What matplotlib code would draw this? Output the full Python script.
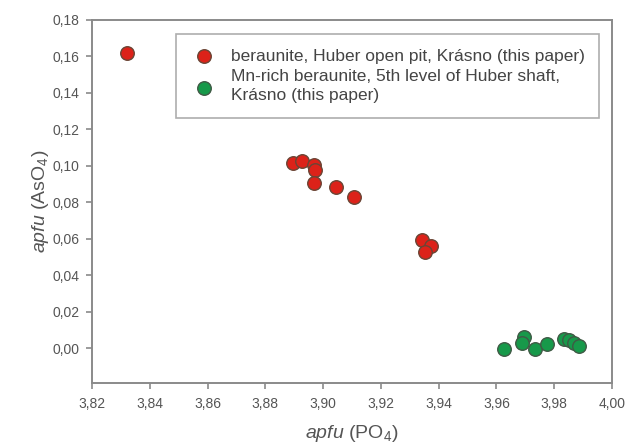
import matplotlib
matplotlib.use("Agg")
import matplotlib.pyplot as plt

plt.rcParams["font.family"] = ["Liberation Sans", "DejaVu Sans"]
plt.rcParams["mathtext.fontset"] = "custom"
plt.rcParams["mathtext.rm"] = "Liberation Sans"
plt.rcParams["mathtext.it"] = "Liberation Sans:italic"

# beraunite, Huber open pit
po4_open = [3.832, 3.8895, 3.8927, 3.8968, 3.8973, 3.8968, 3.9043, 3.9106,
            3.9344, 3.9375, 3.9352]
aso4_open = [0.1617, 0.1017, 0.1026, 0.1004, 0.0977, 0.0907, 0.0882, 0.0830,
             0.0593, 0.0562, 0.0529]

# Mn-rich beraunite, 5th level of Huber shaft
po4_mn = [3.9625, 3.9694, 3.969, 3.9734, 3.9774, 3.9835, 3.9852, 3.987, 3.9885]
aso4_mn = [-0.0005, 0.0062, 0.0029, -0.0005, 0.0026, 0.0053, 0.0044, 0.0029, 0.0013]

xticks = [3.82, 3.84, 3.86, 3.88, 3.90, 3.92, 3.94, 3.96, 3.98, 4.00]
yticks = [0.00, 0.02, 0.04, 0.06, 0.08, 0.10, 0.12, 0.14, 0.16, 0.18]

spine_c = "#8a8a8a"
text_c = "#555555"

fig = plt.figure(figsize=(6.26, 4.46), dpi=100)
ax = fig.add_axes([0.147, 0.1413, 0.8306, 0.8139])

ax.scatter(po4_open, aso4_open, s=95, color="#dc2219", edgecolor="#6a4535",
           linewidth=1.0, zorder=3,
           label="beraunite, Huber open pit, Krásno (this paper)")
ax.scatter(po4_mn, aso4_mn, s=95, color="#17994a", edgecolor="#3f5a45",
           linewidth=1.0, zorder=3,
           label="Mn-rich beraunite, 5th level of Huber shaft,\nKrásno (this paper)")

ax.set_xlim(3.82, 4.00)
ax.set_ylim(-0.019, 0.18)
ax.set_xticks(xticks)
ax.set_yticks(yticks)
ax.set_xticklabels([f"{v:.2f}".replace(".", ",") for v in xticks])
ax.set_yticklabels([f"{v:.2f}".replace(".", ",") for v in yticks])
ax.tick_params(direction="out", length=4, width=1.2, color=spine_c,
               labelsize=10, labelcolor=text_c, pad=5)
ax.tick_params(axis="x", pad=6)
for sp in ax.spines.values():
    sp.set_color(spine_c)
    sp.set_linewidth(1.4)

ax.set_xlabel(r"$\mathit{apfu}$ (PO$_4$)", fontsize=14, color=text_c, labelpad=9)
ax.set_ylabel(r"$\mathit{apfu}$ (AsO$_4$)", fontsize=14, color=text_c, labelpad=1)

leg = ax.legend(loc="upper left", bbox_to_anchor=(0.1615, 0.961),
                borderaxespad=0, fancybox=False, frameon=True, fontsize=12.5,
                handletextpad=0.8, labelspacing=0.3, borderpad=0.85,
                scatterpoints=1, handlelength=1.5)
leg.get_frame().set_edgecolor("#9a9a9a")
leg.get_frame().set_linewidth(1.2)
for t in leg.get_texts():
    t.set_color("#444444")
    t.set_linespacing(1.35)

fig.savefig("out.png", dpi=100)
